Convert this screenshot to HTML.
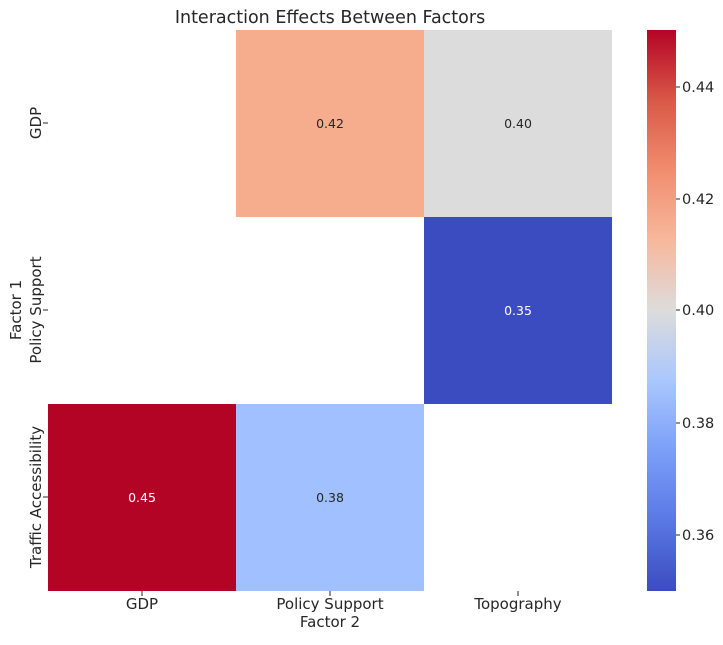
<!DOCTYPE html>
<html><head><meta charset="utf-8"><style>
body{margin:0;background:#fff;}
svg text{font-family:"DejaVu Sans","Liberation Sans",sans-serif;fill:#262626;}
</style></head><body>
<svg width="723" height="640" xmlns="http://www.w3.org/2000/svg">
<defs>
<linearGradient id="cw" x1="0" y1="1" x2="0" y2="0">
<stop offset="0" stop-color="#3b4cc0"/>
<stop offset="0.125" stop-color="#5a78e4"/>
<stop offset="0.25" stop-color="#7b9ff9"/>
<stop offset="0.375" stop-color="#aac7fd"/>
<stop offset="0.5" stop-color="#dddcdc"/>
<stop offset="0.625" stop-color="#f7b89c"/>
<stop offset="0.75" stop-color="#f18d6f"/>
<stop offset="0.875" stop-color="#d95847"/>
<stop offset="1" stop-color="#b40426"/>
</linearGradient>
</defs>
<text x="330" y="23" font-size="17.5" text-anchor="middle">Interaction Effects Between Factors</text>
<rect x="236" y="30" width="188" height="187" fill="#f5ad8e"/>
<rect x="424" y="30" width="188" height="187" fill="#dcdcdc"/>
<rect x="424" y="217" width="188" height="187" fill="#3b4cc0"/>
<rect x="48" y="404" width="188" height="187" fill="#b40426"/>
<rect x="236" y="404" width="188" height="187" fill="#a1c0ff"/>
<g font-size="12.5" text-anchor="middle">
<text x="330" y="128">0.42</text>
<text x="518" y="128">0.40</text>
<text x="518" y="315" style="fill:#fff">0.35</text>
<text x="142" y="502" style="fill:#fff">0.45</text>
<text x="330" y="502">0.38</text>
</g>
<g stroke="#262626" stroke-width="1">
<line x1="142" y1="591" x2="142" y2="596"/><line x1="330" y1="591" x2="330" y2="596"/><line x1="518" y1="591" x2="518" y2="596"/>
<line x1="43" y1="123" x2="48" y2="123"/><line x1="43" y1="310" x2="48" y2="310"/><line x1="43" y1="497" x2="48" y2="497"/>
</g>
<g font-size="15" text-anchor="middle">
<text x="142" y="609">GDP</text>
<text x="330" y="609">Policy Support</text>
<text x="518" y="609">Topography</text>
<text x="330" y="627">Factor 2</text>
<text transform="translate(41,123) rotate(-90)">GDP</text>
<text transform="translate(41,310) rotate(-90)">Policy Support</text>
<text transform="translate(41,497) rotate(-90)">Traffic Accessibility</text>
<text transform="translate(21,310) rotate(-90)">Factor 1</text>
</g>
<rect x="647" y="30" width="29" height="561" fill="url(#cw)"/>
<g stroke="#262626" stroke-width="1">
<line x1="676" y1="87" x2="680" y2="87"/><line x1="676" y1="199" x2="680" y2="199"/><line x1="676" y1="310" x2="680" y2="310"/><line x1="676" y1="423" x2="680" y2="423"/><line x1="676" y1="535" x2="680" y2="535"/>
</g>
<g font-size="14.5">
<text x="682" y="92">0.44</text>
<text x="682" y="204">0.42</text>
<text x="682" y="315">0.40</text>
<text x="682" y="428">0.38</text>
<text x="682" y="540">0.36</text>
</g>
</svg>
</body></html>
